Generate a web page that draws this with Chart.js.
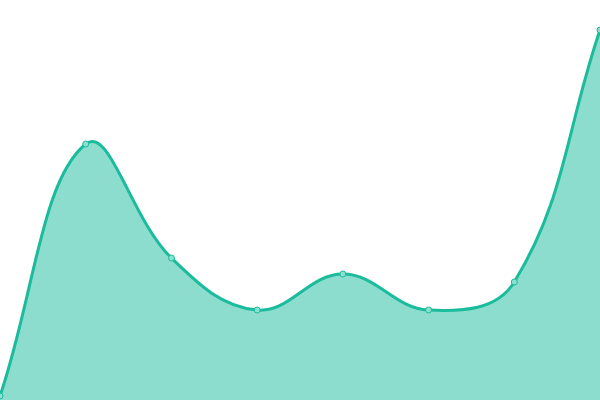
<!DOCTYPE html>
<html>
<head>
    <title>Area Chart</title>
    <script src="https://cdn.jsdelivr.net/npm/chart.js"></script>
    <style>
        html, body {
            margin: 0;
            padding: 0;
            background-color: white;
        }
        #wrap {
            width: 600px;
            height: 400px;
        }
    </style>
</head>
<body>
    <div id="wrap"><canvas id="areaChart"></canvas></div>
    <script>
        // values (scale 0..100)
        let labels = ['1', '2', '3', '4', '5', '6', '7', '8'];
        let values = [1, 64, 35.5, 22.5, 31.5, 22.5, 29.5, 92.5];

        let ctx = document.getElementById('areaChart').getContext('2d');
        let areaChart = new Chart(ctx, {
            type: 'line',
            data: {
                labels: labels,
                datasets: [{
                    data: values,
                    fill: true,
                    tension: 0.4,
                    borderColor: '#1abc9c',
                    backgroundColor: 'rgba(26, 188, 156, 0.5)',
                    borderWidth: 3,
                    pointRadius: 3,
                    pointBorderWidth: 1,
                    pointBackgroundColor: 'rgba(140, 224, 207, 1)',
                    pointBorderColor: '#1abc9c'
                }]
            },
            options: {
                responsive: true,
                maintainAspectRatio: false,
                animation: false,
                layout: { padding: 0, autoPadding: false },
                plugins: {
                    legend: { display: false },
                    tooltip: { enabled: false }
                },
                scales: {
                    x: { display: false },
                    y: { display: false, min: 0, max: 100 }
                }
            }
        });
    </script>
</body>
</html>
